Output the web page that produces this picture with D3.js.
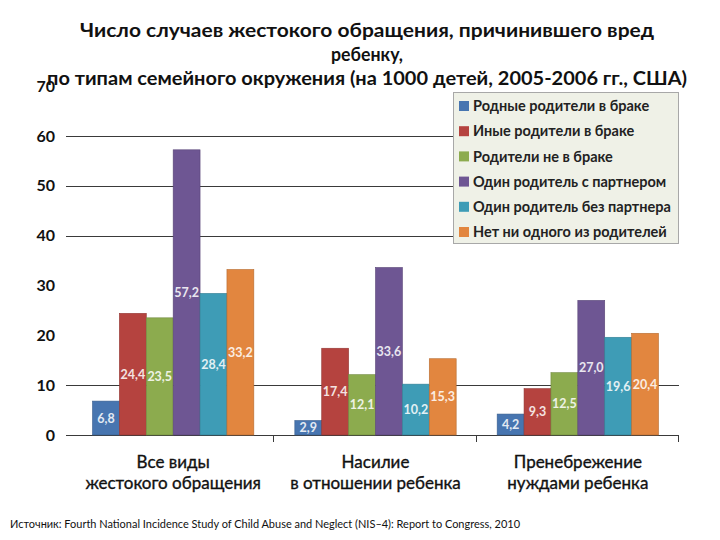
<!DOCTYPE html>
<html><head><meta charset="utf-8">
<script src="https://cdn.jsdelivr.net/npm/d3@7"></script>
<style>body{margin:0;background:#fff}svg{display:block}</style>
</head><body>
<script>
const categories = ["Все виды\nжестокого обращения", "Насилие\nв отношении ребенка", "Пренебрежение\nнуждами ребенка"];
const seriesNames = ["Родные родители в браке", "Иные родители в браке", "Родители не в браке", "Один родитель с партнером", "Один родитель без партнера", "Нет ни одного из родителей"];
const s1 = [6.8, 2.9, 4.2];
const s2 = [24.4, 17.4, 9.3];
const s3 = [23.5, 12.1, 12.5];
const s4 = [57.2, 33.6, 27.0];
const s5 = [28.4, 10.2, 19.6];
const s6 = [33.2, 15.3, 20.4];
const seriesValues = [s1, s2, s3, s4, s5, s6];
const colors = ["#4775b0", "#b5433f", "#8cab4e", "#6e5693", "#3e9cb6", "#e2863f"];
const yTicks = [0, 10, 20, 30, 40, 50, 60, 70];
const gridTicks = [0, 10, 40, 50, 60];
const titleLines = ["Число случаев жестокого обращения, причинившего вред", "ребенку,", "по типам семейного окружения (на 1000 детей, 2005-2006 гг., США)"];
const sourceText = "Источник: Fourth National Incidence Study of Child Abuse and Neglect (NIS–4): Report to Congress, 2010";

const W = 720, H = 540;
const svg = d3.select("body").append("svg").attr("width", W).attr("height", H);
const font = "Lato, 'Open Sans', sans-serif";

const x = d3.scaleBand().domain(d3.range(categories.length)).range([72, 679]).paddingInner(0).paddingOuter(0);
const xs = d3.scaleBand().domain(d3.range(seriesNames.length)).range([20.5, x.bandwidth() - 20.5]).padding(0);
const y = d3.scaleLinear().domain([0, 70]).range([435, 86]);

// gridlines
svg.append("g").selectAll("line").data(gridTicks).join("line")
  .attr("x1", 66).attr("x2", 679)
  .attr("y1", d => Math.round(y(d)) + 0.5).attr("y2", d => Math.round(y(d)) + 0.5)
  .attr("stroke", "#3a3a3a").attr("stroke-width", 1);

// y labels
svg.append("g").selectAll("text").data(yTicks).join("text")
  .attr("x", 55).attr("y", d => y(d)).attr("dy", "0.36em")
  .attr("text-anchor", "end").attr("font-family", font).attr("font-weight", "bold")
  .attr("font-size", 16).attr("fill", "#111").text(d => d);

// category separator ticks
svg.append("g").selectAll("line").data(d3.range(1, categories.length + 1)).join("line")
  .attr("x1", d => Math.round(x(0) + d * x.step()) - 0.5).attr("x2", d => Math.round(x(0) + d * x.step()) - 0.5)
  .attr("y1", 435).attr("y2", 442).attr("stroke", "#3a3a3a");

// bars
const groups = svg.append("g").selectAll("g").data(categories).join("g")
  .attr("transform", (d, i) => `translate(${x(i)},0)`);
groups.each(function(cat, ci) {
  const g = d3.select(this);
  seriesValues.forEach((vals, si) => {
    const v = vals[ci];
    g.append("rect").attr("x", xs(si)).attr("width", xs.bandwidth())
      .attr("y", y(v)).attr("height", y(0) - y(v))
      .attr("fill", colors[si]).attr("stroke", d3.color(colors[si]).darker(0.6)).attr("stroke-width", 0.6);
    g.append("text").attr("x", xs(si) + xs.bandwidth() / 2).attr("y", (y(v) + y(0)) / 2).attr("dy", "0.36em")
      .attr("text-anchor", "middle").attr("font-family", font).attr("font-weight", "bold").attr("font-size", 12.5)
      .attr("fill", d3.interpolateRgb(colors[si], "#ffffff")(0.85))
      .text(d3.format(".1f")(v).replace(".", ","));
  });
});

// category labels
svg.append("g").selectAll("text").data(categories).join("text")
  .attr("x", (d, i) => x(i) + x.bandwidth() / 2).attr("y", 468)
  .attr("text-anchor", "middle").attr("font-family", font).attr("font-size", 17).attr("fill", "#111")
  .attr("stroke", "#111").attr("stroke-width", 0.35)
  .each(function(d) {
    d.split("\n").forEach((line, li) => {
      d3.select(this).append("tspan").attr("x", d3.select(this).attr("x")).attr("dy", li === 0 ? 0 : 21).text(line);
    });
  });

// legend
const lg = svg.append("g");
lg.append("rect").attr("x", 453.5).attr("y", 92.5).attr("width", 225).attr("height", 151)
  .attr("fill", "#eff1e7").attr("stroke", "#a8a8a8");
seriesNames.forEach((n, i) => {
  const yy = 106 + i * 25.2;
  lg.append("rect").attr("x", 459).attr("y", yy - 5).attr("width", 10).attr("height", 10).attr("fill", colors[i]);
  lg.append("text").attr("x", 473).attr("y", yy).attr("dy", "0.36em").attr("font-family", font)
    .attr("font-weight", "bold").attr("font-size", 14.5).attr("fill", "#222").text(n);
});

// title
const tW = [574, 72, 640];
titleLines.forEach((t, i) => {
  svg.append("text").attr("x", 367).attr("y", 37 + i * 24).attr("text-anchor", "middle")
    .attr("font-family", font).attr("font-weight", "bold").attr("font-size", 18).attr("fill", "#111")
    .attr("textLength", tW[i]).attr("lengthAdjust", "spacingAndGlyphs").text(t);
});

// source
svg.append("text").attr("x", 10).attr("y", 528).attr("font-family", font).attr("font-size", 11)
  .attr("fill", "#111").attr("textLength", 510).attr("lengthAdjust", "spacingAndGlyphs").text(sourceText);
</script>
</body></html>
